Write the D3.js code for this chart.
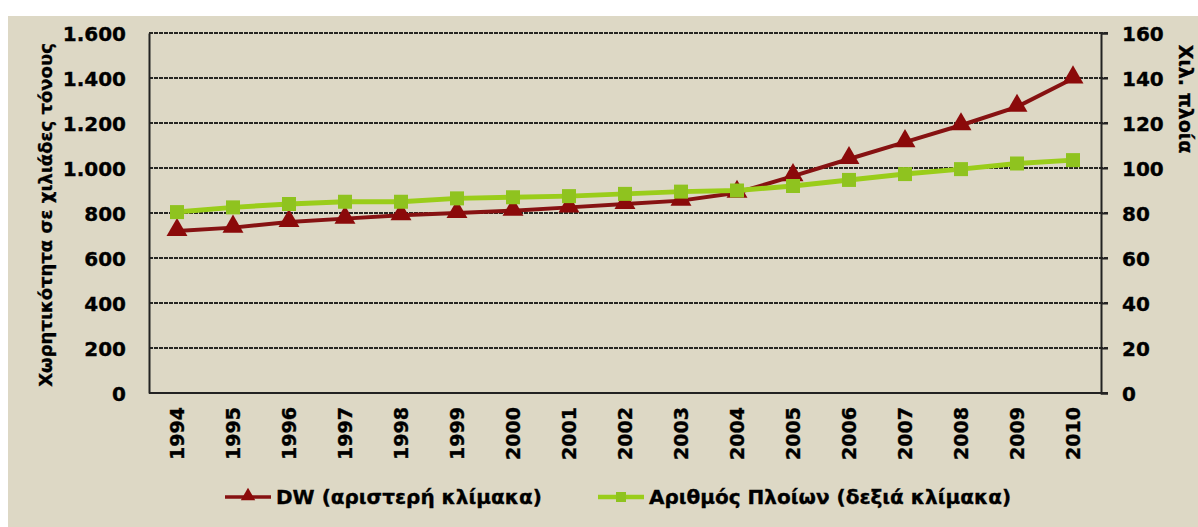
<!DOCTYPE html>
<html>
<head>
<meta charset="utf-8">
<script src="https://cdn.jsdelivr.net/npm/d3@7"></script>
<style>
  body { margin: 0; background: #fff; }
  svg text { font-family: "DejaVu Sans", Verdana, sans-serif; font-weight: bold; fill: #000; stroke: #000; stroke-width: 0.35px; }
</style>
</head>
<body>
<div id="chart"></div>
<script>
// years on the x axis
const years = ["1994","1995","1996","1997","1998","1999","2000","2001","2002",
               "2003","2004","2005","2006","2007","2008","2009","2010"];
// deadweight capacity, thousands of tonnes (left scale)
const dwValues = [720, 735, 760, 775, 790, 800, 810, 825, 840, 855, 890, 964, 1040, 1115, 1190, 1272, 1398];
// number of ships, thousands (right scale)
const shipValues = [80.4, 82.5, 84, 85, 85, 86.5, 87, 87.5, 88.5, 89.5, 90, 92, 94.7, 97.3, 99.5, 102, 103.5];
const leftTicks = [0, 200, 400, 600, 800, 1000, 1200, 1400, 1600];
const rightTicks = [0, 20, 40, 60, 80, 100, 120, 140, 160];

const width = 1198, height = 527;
const margin = {top: 33, right: 97, bottom: 134, left: 149};

const svg = d3.select("#chart").append("svg")
    .attr("width", width)
    .attr("height", height);

// beige panel
svg.append("rect")
    .attr("x", 8).attr("y", 16)
    .attr("width", width - 8).attr("height", height - 16)
    .attr("fill", "#ddd8c5");

const x = d3.scaleBand()
    .domain(years)
    .range([margin.left, width - margin.right]);

const yL = d3.scaleLinear()
    .domain([0, 1600])
    .range([height - margin.bottom, margin.top]);

const yR = d3.scaleLinear()
    .domain([0, 160])
    .range([height - margin.bottom, margin.top]);

const fmt = d3.formatLocale({decimal: ",", thousands: ".", grouping: [3], currency: ["", "€"]}).format(",d");

// gridlines
svg.append("g")
  .selectAll("line")
  .data(leftTicks.filter(d => d > 0))
  .join("line")
    .attr("x1", margin.left)
    .attr("x2", width - margin.right + 7)
    .attr("y1", d => yL(d))
    .attr("y2", d => yL(d))
    .attr("stroke", "#262622")
    .attr("stroke-width", 2)
    .attr("stroke-dasharray", "4,1");

// left axis
const gL = svg.append("g")
    .attr("transform", `translate(${margin.left},0)`)
    .call(d3.axisLeft(yL).tickValues(leftTicks).tickFormat(fmt).tickSize(0).tickPadding(23));
gL.select(".domain").attr("stroke", "#222").attr("stroke-width", 2);
gL.selectAll("text").attr("font-size", 20).attr("font-family", null).attr("dy", "0.35em");

// right axis
const gR = svg.append("g")
    .attr("transform", `translate(${width - margin.right},0)`)
    .call(d3.axisRight(yR).tickValues(rightTicks).tickSize(7).tickPadding(14));
gR.select(".domain").attr("stroke", "#222").attr("stroke-width", 2);
gR.selectAll(".tick line").attr("stroke", "#222").attr("stroke-width", 2);
gR.selectAll("text").attr("font-size", 20).attr("font-family", null).attr("dy", "0.35em");

// x axis
const gX = svg.append("g")
    .attr("transform", `translate(0,${height - margin.bottom})`)
    .call(d3.axisBottom(x).tickSize(0).tickPadding(0));
gX.select(".domain").attr("stroke", "#222").attr("stroke-width", 2)
    .attr("d", `M${margin.left},0H${width - margin.right + 7}`);
gX.selectAll("text")
    .attr("font-size", 19)
    .attr("font-family", null)
    .attr("text-anchor", "end")
    .attr("transform", "translate(0,14) rotate(-90)")
    .attr("dy", "0.35em")
    .attr("y", 0)
    .attr("x", 0);

// axis titles
svg.append("text")
    .attr("transform", `translate(52,${(yL(0) + yL(1600)) / 2 + 2}) rotate(-90)`)
    .attr("text-anchor", "middle")
    .attr("font-size", 18)
    .text("Χωρητικότητα σε χιλιάδες τόνους");

svg.append("text")
    .attr("transform", `translate(1179,99) rotate(90)`)
    .attr("text-anchor", "middle")
    .attr("font-size", 19)
    .text("Χιλ. πλοία");

const cx = d => x(d) + x.bandwidth() / 2;

// DW series
const dwColor = "#861212";
svg.append("path")
    .datum(years)
    .attr("fill", "none")
    .attr("stroke", dwColor)
    .attr("stroke-width", 4)
    .attr("d", d3.line().x(cx).y((d, i) => yL(dwValues[i])));

const tri = d3.symbol().type(d3.symbolTriangle).size(190);
svg.append("g")
  .selectAll("path")
  .data(years)
  .join("path")
    .attr("transform", (d, i) => `translate(${cx(d)},${yL(dwValues[i]) - 1})`)
    .attr("d", tri)
    .attr("fill", "#8b0a0a");

// ships series
const shipColor = "#9acd1a";
svg.append("path")
    .datum(years)
    .attr("fill", "none")
    .attr("stroke", shipColor)
    .attr("stroke-width", 5)
    .attr("d", d3.line().x(cx).y((d, i) => yR(shipValues[i])));

svg.append("g")
  .selectAll("rect")
  .data(years)
  .join("rect")
    .attr("x", d => cx(d) - 7)
    .attr("y", (d, i) => yR(shipValues[i]) - 7)
    .attr("width", 14)
    .attr("height", 14)
    .attr("fill", "#8fc31f");

// legend
const legend = [
  {label: "DW (αριστερή κλίμακα)", x: 225, color: dwColor, mark: "tri"},
  {label: "Αριθμός Πλοίων (δεξιά κλίμακα)", x: 598, color: shipColor, mark: "sq"}
];
const lg = svg.append("g").selectAll("g").data(legend).join("g")
    .attr("transform", d => `translate(${d.x},497)`);
lg.append("line")
    .attr("x1", 0).attr("x2", 46)
    .attr("stroke", d => d.color)
    .attr("stroke-width", d => d.mark === "tri" ? 3.5 : 4.5);
lg.filter(d => d.mark === "tri").append("path")
    .attr("transform", "translate(23,-1)")
    .attr("d", d3.symbol().type(d3.symbolTriangle).size(90))
    .attr("fill", "#8b0a0a");
lg.filter(d => d.mark === "sq").append("rect")
    .attr("x", 18).attr("y", -5).attr("width", 10).attr("height", 10)
    .attr("fill", "#8fc31f");
lg.append("text")
    .attr("x", 51)
    .attr("dy", "0.35em")
    .attr("font-size", 20)
    .text(d => d.label);
</script>
</body>
</html>
